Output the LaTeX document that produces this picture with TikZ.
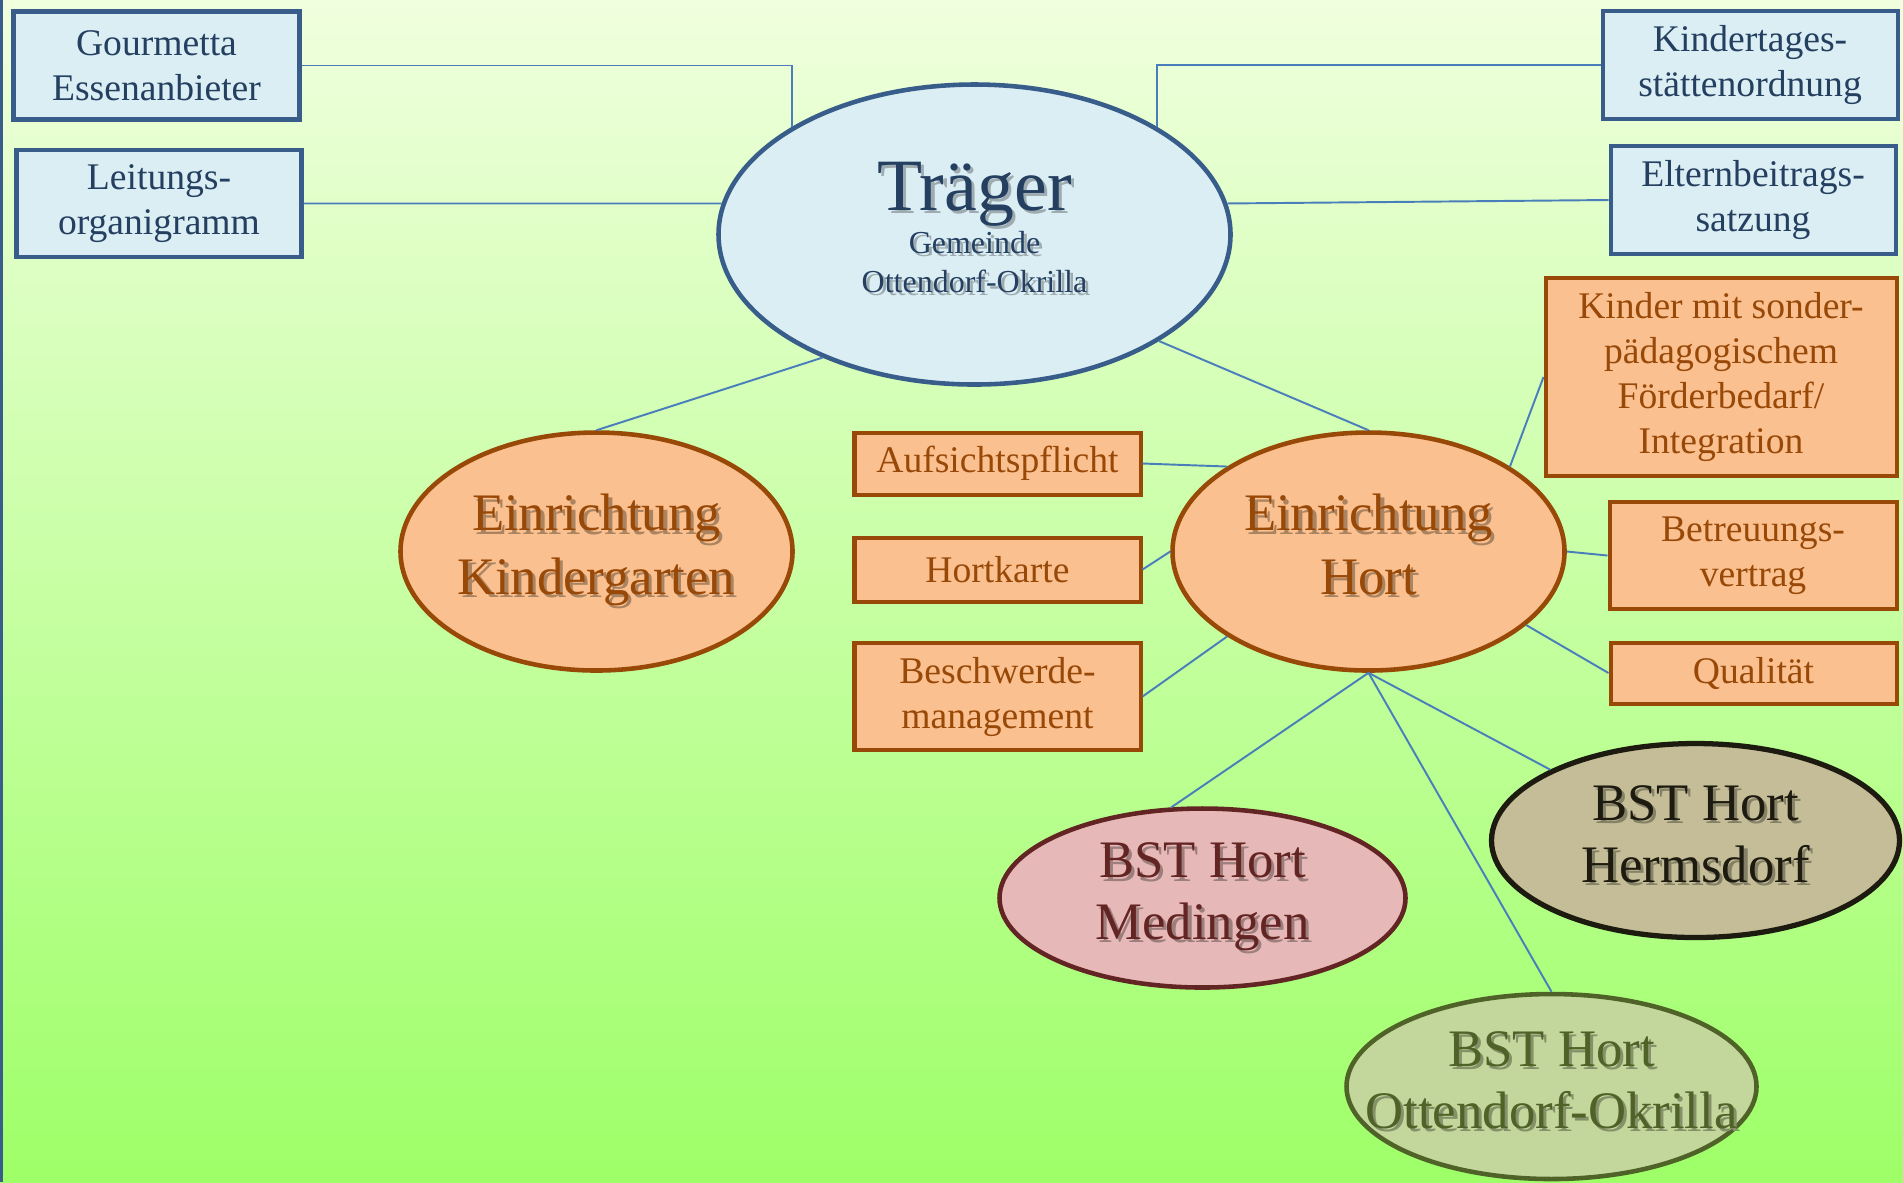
\documentclass[tikz,border=0pt]{standalone}
\usepackage{fontspec}
\setmainfont{Liberation Serif}
\usetikzlibrary{shapes.geometric}
\definecolor{bgtop}{RGB}{240,255,222}
\definecolor{bgmid}{RGB}{196,255,146}
\definecolor{bgbot}{RGB}{158,255,104}
\definecolor{boxblue}{RGB}{56,93,138}
\definecolor{fillblue}{RGB}{219,238,244}
\definecolor{textblue}{RGB}{36,63,96}
\definecolor{peach}{RGB}{250,192,143}
\definecolor{rust}{RGB}{152,72,7}
\definecolor{rosefill}{RGB}{230,185,184}
\definecolor{maroon}{RGB}{99,37,35}
\definecolor{khaki}{RGB}{196,189,151}
\definecolor{nearblack}{RGB}{29,27,16}
\definecolor{olivefill}{RGB}{195,214,155}
\definecolor{olivedark}{RGB}{79,98,40}
\definecolor{linkblue}{RGB}{74,126,187}
\newcommand\shadowed[2]{\makebox[0pt]{\rlap{\kern0.9pt\raisebox{-0.9pt}{\color{#1}%
  \begin{tabular}{@{}c@{}}#2\end{tabular}}}\begin{tabular}{@{}c@{}}#2\end{tabular}}}
\tikzset{
  bluebox/.style   = {draw=boxblue, fill=fillblue, text=textblue, line width=1.15pt,
                      rectangle, align=center, inner sep=2pt,
                      font=\fontsize{10.7}{12.8}\selectfont},
  orangebox/.style = {bluebox, draw=rust, fill=peach, text=rust},
  bubble/.style    = {ellipse, line width=1.3pt, inner sep=0pt,
                      font=\fontsize{15}{18}\selectfont},
  link/.style      = {draw=linkblue, line width=0.55pt},
}
\begin{document}
\begin{tikzpicture}[
   bluebub/.style={bubble, draw=boxblue, fill=fillblue, text=textblue},
   peachbub/.style={bubble, draw=rust, fill=peach, text=rust},
   rosebub/.style={bubble, draw=maroon, fill=rosefill, text=maroon},
   khakibub/.style={bubble, draw=nearblack, fill=khaki, text=nearblack, line width=1.5pt},
   olivebub/.style={bubble, draw=olivedark, fill=olivefill, text=olivedark}]
\useasboundingbox (0,0) rectangle (19.03,-11.82);
\shade[top color=bgtop, middle color=bgmid, bottom color=bgbot] (0,0) rectangle (19.03,-11.82);
\draw[boxblue, line width=0.9pt] (0.015,0) -- (0.015,-11.82);
\node[bluebox, minimum width=2.86cm, minimum height=1.08cm] (gourmetta) at (1.565,-0.655)
  {Gourmetta\\Essenanbieter};
\node[bluebox, minimum width=2.85cm, minimum height=1.07cm] (leitung) at (1.59,-2.035)
  {Leitungs-\\organigramm};
\node[bluebox, minimum width=2.95cm, minimum height=1.08cm] (kita) at (17.50,-0.65)
  {Kindertages-\\stättenordnung};
\node[bluebox, minimum width=2.85cm, minimum height=1.08cm] (eltern) at (17.53,-2.0)
  {Elternbeitrags-\\satzung};
\node[orangebox, minimum width=3.51cm, minimum height=1.98cm] (sonder) at (17.21,-3.77)
  {Kinder mit sonder-\\pädagogischem\\Förderbedarf/\\Integration};
\node[orangebox, minimum width=2.87cm, minimum height=1.07cm] (betreuung) at (17.53,-5.555)
  {Betreuungs-\\vertrag};
\node[orangebox, minimum width=2.86cm, minimum height=0.61cm] (qualitaet) at (17.535,-6.73)
  {Qualität};
\node[orangebox, minimum width=2.86cm, minimum height=0.62cm] (aufsicht) at (9.975,-4.635)
  {Aufsichtspflicht};
\node[orangebox, minimum width=2.86cm, minimum height=0.64cm] (hortkarte) at (9.975,-5.695)
  {Hortkarte};
\node[orangebox, minimum width=2.86cm, minimum height=1.07cm] (beschwerde) at (9.975,-6.965)
  {Beschwerde-\\management};
\node[bluebub, font=\fontsize{9.1}{11}\selectfont, minimum width=5.12cm, minimum height=3.0cm]
  (traeger) at (9.745,-2.345)
  {\shadowed{fillblue!72!black}{{\fontsize{21}{21}\selectfont Träger}\\[0.6pt]Gemeinde\\Ottendorf-Okrilla}};
\node[peachbub, minimum width=3.92cm, minimum height=2.38cm] (kiga) at (5.965,-5.515)
  {\shadowed{peach!68!black}{Einrichtung\\Kindergarten}};
\node[peachbub, minimum width=3.92cm, minimum height=2.38cm] (hort) at (13.685,-5.515)
  {\shadowed{peach!68!black}{Einrichtung\\Hort}};
\node[rosebub, font=\fontsize{15}{17.5}\selectfont, minimum width=4.06cm, minimum height=1.79cm]
  (medingen) at (12.025,-8.98) {\shadowed{rosefill!68!black}{BST Hort\\Medingen}};
\node[khakibub, font=\fontsize{15}{17.5}\selectfont, minimum width=4.08cm, minimum height=1.94cm]
  (hermsdorf) at (16.955,-8.405) {\shadowed{khaki!68!black}{BST Hort\\Hermsdorf}};
\node[olivebub, font=\fontsize{15}{17.5}\selectfont, minimum width=4.10cm, minimum height=1.85cm]
  (bstotto) at (15.515,-10.865) {\shadowed{olivefill!68!black}{BST Hort\\Ottendorf-Okrilla}};
\draw[link] (gourmetta.east) -| (traeger.north west);
\draw[link] (leitung.east) -- (traeger.173);
\draw[link] (kita.west) -| (traeger.north east);
\draw[link] (eltern.west) -- (traeger.7);
\draw[link] (traeger.219) -- (kiga.north);
\draw[link] (traeger.330) -- (hort.north);
\draw[link] (aufsicht.east) -- (hort.149);
\draw[link] (hortkarte.east) -- (hort.west);
\draw[link] (beschwerde.east) -- (hort.211);
\draw[link] (hort.31) -- (sonder.west);
\draw[link] (hort.east) -- (betreuung.west);
\draw[link] (hort.335) -- (qualitaet.west);
\draw[link] (hort.south) -- (medingen.109);
\draw[link] (hort.south) -- (bstotto.north);
\draw[link] (hort.south) -- (hermsdorf.154);
\end{tikzpicture}
\end{document}
